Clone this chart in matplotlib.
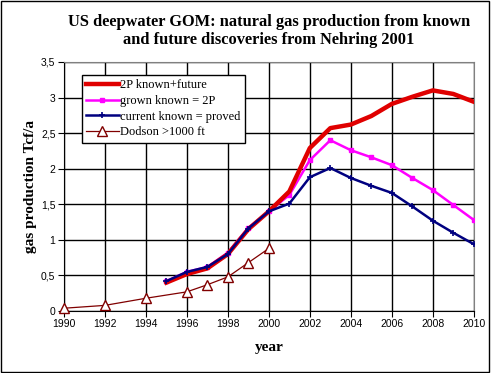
import matplotlib
matplotlib.use("Agg")
import matplotlib.pyplot as plt
from matplotlib.ticker import FuncFormatter

years = list(range(1995, 2011))
known_future = [0.40, 0.52, 0.60, 0.80, 1.15, 1.40, 1.68, 2.29, 2.57, 2.62, 2.74, 2.91, 3.01, 3.10, 3.05, 2.94]
grown_known = [0.42, 0.55, 0.62, 0.82, 1.17, 1.40, 1.63, 2.12, 2.40, 2.26, 2.16, 2.05, 1.87, 1.70, 1.49, 1.28]
current_known = [0.42, 0.55, 0.62, 0.80, 1.16, 1.40, 1.51, 1.88, 2.01, 1.87, 1.76, 1.66, 1.47, 1.27, 1.10, 0.94]

dodson_years = [1990, 1992, 1994, 1996, 1997, 1998, 1999, 2000]
dodson = [0.04, 0.08, 0.18, 0.27, 0.37, 0.48, 0.68, 0.88]

serif = "Liberation Serif"
sans = "Liberation Sans"

fig = plt.figure(figsize=(4.91, 3.73), dpi=100, facecolor="white")
# outer frame of the chart
fig.patches.append(plt.Rectangle((0.002, 0.003), 0.994, 0.993, transform=fig.transFigure,
                                 fill=False, edgecolor="black", linewidth=1.0))
ax = fig.add_axes([0.130, 0.166, 0.835, 0.668])

ax.plot(years, known_future, color="#e00000", linewidth=3.2, label="2P known+future", zorder=5)
ax.plot(years, grown_known, color="#ff00ff", linewidth=1.8, marker="s", markersize=3,
        label="grown known = 2P", zorder=4)
ax.plot(years, current_known, color="#000080", linewidth=1.8, marker="+", markersize=4,
        markeredgewidth=1.2, label="current known = proved", zorder=6)
ax.plot(dodson_years, dodson, color="#800000", linewidth=0.9, marker="^", markersize=7,
        markerfacecolor="white", markeredgecolor="#800000", label="Dodson >1000 ft",
        zorder=3, clip_on=False)

ax.set_xlim(1990, 2010)
ax.set_ylim(0, 3.5)
ax.set_xticks(range(1990, 2011, 2))
ax.set_yticks([0, 0.5, 1, 1.5, 2, 2.5, 3, 3.5])
ax.yaxis.set_major_formatter(FuncFormatter(lambda v, p: ("%g" % v).replace(".", ",")))
ax.grid(True, color="black", linewidth=1.0)
ax.set_axisbelow(True)
for s in ["top", "right"]:
    ax.spines[s].set_color("#808080")
for s in ["left", "bottom"]:
    ax.spines[s].set_color("black")
ax.tick_params(axis="both", labelsize=7.5, length=4, color="black", direction="out", pad=2)
for lab in ax.get_xticklabels() + ax.get_yticklabels():
    lab.set_family(sans)

ax.set_title("US deepwater GOM: natural gas production from known\nand future discoveries from Nehring 2001",
             fontfamily=serif, fontweight="bold", fontsize=11.8, pad=13, linespacing=1.15)
ax.set_xlabel("year", fontfamily=serif, fontweight="bold", fontsize=11, labelpad=8)
ax.set_ylabel("gas production Tcf/a", fontfamily=serif, fontweight="bold", fontsize=11, labelpad=3)

leg = ax.legend(loc="upper left", bbox_to_anchor=(0.044, 0.948), prop={"family": serif, "size": 9},
                frameon=True, fancybox=False, edgecolor="black", framealpha=1, borderpad=0.35,
                labelspacing=0.3, handlelength=2.6, handletextpad=0.1, borderaxespad=0)
leg.get_frame().set_linewidth(1.0)

fig.savefig("out.png", dpi=100, facecolor="white")
